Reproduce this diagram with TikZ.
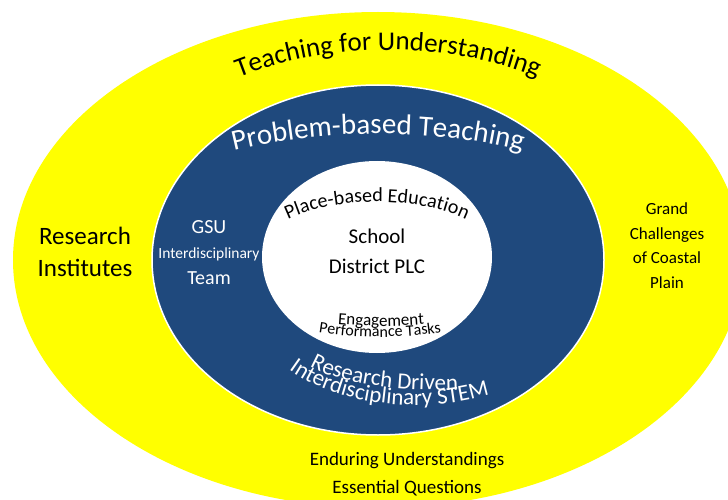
\documentclass[tikz,border=0pt]{standalone}
\usepackage{fontspec}
\setmainfont{Carlito}
\usepackage{tikz}
\usepackage{xcolor}
\usetikzlibrary{decorations.text}
\definecolor{jaune}{RGB}{255,255,0}
\definecolor{bleu}{RGB}{31,73,125}
\tikzset{
ArcTexte/.style={
 decorate,
 decoration={text along path, text align=center, text={#1}}
 },
ArcTexteG/.style={
 decorate,
 decoration={text along path, text align=left, text={#1}}
 },
Blanc/.style={
 decoration={text color=white}
 },
Bloc/.style={
 align=center,
 inner sep=0pt,
 anchor=base
 }
}

\begin{document}
\begin{tikzpicture}[x=1pt,y=1pt]
\useasboundingbox (0,0) rectangle (728,499);
\clip (0,0) rectangle (728,499);
\fill[jaune] (378,239) ellipse (365 and 248);
\filldraw[fill=bleu,draw=white,line width=1.5pt] (378,239) ellipse (226 and 175);
\fill[white] (377,242) ellipse (115 and 96);
\path[ArcTexte={|\fontsize{27}{27}\selectfont|Teaching for Understanding}] (388,244) ++(140:300 and 205) arc (140:40:300 and 205);
\path[ArcTexte={|\fontsize{29}{29}\selectfont|Problem-based Teaching},Blanc] (378,239) ++(155:290 and 126) arc (155:25:290 and 126);
\path[ArcTexte={|\fontsize{20}{20}\selectfont|Place-based Education}] (377,242) ++(170:122 and 55) arc (170:10:122 and 55);
\path[ArcTexte={|\fontsize{17}{17}\selectfont|Engagement}] (381,213) ++(200:150 and 40) arc (200:340:150 and 40);
\path[ArcTexte={|\fontsize{16}{16}\selectfont|Performance Tasks}] (380,216) ++(200:150 and 54) arc (200:340:150 and 54);
\path[ArcTexteG={|\fontsize{23}{23}\selectfont|Research Driven},Blanc] (440,151) ++(206:145 and 42) arc (206:355:145 and 42);
\path[ArcTexteG={|\fontsize{23}{23}\selectfont|Interdisciplinary STEM},Blanc] (415,186) ++(218:160 and 92) arc (218:355:160 and 92);
\node[Bloc,font=\fontsize{25}{32}\selectfont] (institut) at (85,223) {Research\\Institutes};
\node[Bloc,font=\fontsize{21}{30}\selectfont] (ecole) at (377,226) {School\\District PLC};
\node[Bloc,font=\fontsize{20}{25.5}\selectfont,text=white] (gsu) at (209,215) {GSU\\{\fontsize{15.5}{18}\selectfont Interdisciplinary}\\Team};
\node[Bloc,font=\fontsize{17}{24.5}\selectfont] (defi) at (667,211) {Grand\\Challenges\\of Coastal\\Plain};
\node[Bloc,font=\fontsize{19}{28}\selectfont] (questions) at (407,6) {Enduring Understandings\\Essential Questions};
\end{tikzpicture}
\end{document}
